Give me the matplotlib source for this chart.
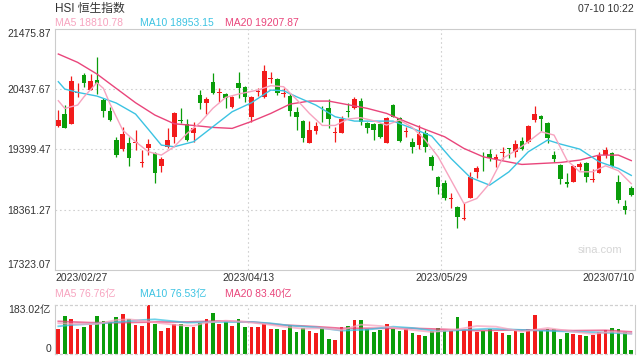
import matplotlib
matplotlib.use('Agg')
import matplotlib.pyplot as plt
import matplotlib.transforms as mtransforms

plt.rcParams['font.family'] = ['Liberation Sans', 'Noto Sans CJK SC', 'DejaVu Sans']

# daily OHLC, HSI 2023/02/27 - 2023/07/10
opens = [19803.0, 20009.9, 19843.2, 20377.9, 20688.3, 20423.8, 20596.3, 20251.4, 20067.4, 19561.5,
         19400.5, 19504.0, 19504.0, 19170.6, 19417.8, 19331.5, 19113.1, 19435.0, 19619.0, 19906.4,
         19831.7, 19688.0, 20337.6, 20205.4, 20556.1, 20377.9, 20349.1, 20136.4, 20550.3, 20481.3,
         19963.9, 20383.6, 20297.4, 20619.3, 20613.6, 20360.6, 20320.4, 20050.2, 19889.2, 19515.5,
         19716.7, 19912.2, 20107.7, 19688.0, 19688.0, 20055.9, 20119.2, 20234.1, 19860.5, 19831.7,
         19837.5, 19515.5, 20165.1, 19935.2, 19699.5, 19532.8, 19475.3, 19688.0, 19274.0, 18929.1,
         18825.6, 18543.9, 18411.7, 18199.0, 18566.9, 19015.3, 19118.8, 19314.3, 19228.1, 19337.3,
         19423.5, 19360.3, 19544.2, 19532.8, 19906.4, 19975.4, 19848.9, 19302.8, 19130.3, 18831.4,
         18842.9, 19101.6, 19159.1, 18877.4, 18998.1, 19302.8, 19331.5, 18831.4, 18423.2, 18727.9]
closes = [19906.4, 19774.2, 20579.1, 20389.4, 20550.3, 20573.3, 20533.1, 20055.9, 19906.4, 19302.8,
          19665.0, 19245.3, 19521.3, 19182.1, 19486.8, 18998.1, 19233.8, 19561.5, 20032.9, 19894.9,
          19561.5, 19774.2, 20193.9, 20268.6, 20377.9, 20389.4, 20280.1, 20308.9, 20464.1, 20308.9,
          20308.9, 20406.6, 20751.5, 20630.8, 20366.4, 20372.1, 20067.4, 19963.9, 19601.7, 19734.0,
          19803.0, 19900.6, 19923.7, 19699.5, 19917.9, 20044.4, 20262.9, 19866.2, 19762.7, 19734.0,
          19619.0, 19946.7, 19963.9, 19550.0, 19711.0, 19446.5, 19659.2, 19435.0, 19113.1, 18756.6,
          18555.4, 18561.2, 18239.2, 18210.5, 18929.1, 19084.3, 19107.3, 19245.3, 19274.0, 19348.8,
          19412.0, 19492.5, 19406.3, 19803.0, 20004.2, 19917.9, 19601.7, 19228.1, 18888.9, 18796.9,
          19113.1, 19147.6, 18929.1, 18888.9, 19291.3, 19389.0, 19113.1, 18526.7, 18354.2, 18613.0]
highs = [20078.9, 20165.1, 20665.3, 20538.8, 20722.8, 20694.1, 20987.3, 20280.1, 20136.4, 19619.0,
         19780.0, 19619.0, 19734.0, 19389.0, 19578.7, 19360.3, 19274.0, 19762.7, 20050.2, 20107.7,
         19923.7, 19877.7, 20423.8, 20308.9, 20711.3, 20452.6, 20366.4, 20320.4, 20734.3, 20492.8,
         20320.4, 20464.1, 20855.0, 20728.5, 20625.1, 20452.6, 20366.4, 20136.4, 19906.4, 19889.2,
         19877.7, 20153.6, 20262.9, 19780.0, 19975.4, 20193.9, 20308.9, 20280.1, 19877.7, 19848.9,
         19848.9, 19963.9, 20176.6, 19952.4, 19780.0, 19601.7, 19820.2, 19734.0, 19302.8, 18940.6,
         18871.6, 18653.2, 18423.2, 18469.2, 19015.3, 19113.1, 19360.3, 19400.5, 19320.0, 19446.5,
         19429.3, 19561.5, 19619.0, 19820.2, 20147.9, 19992.7, 19877.7, 19371.8, 19141.8, 18998.1,
         19130.3, 19187.8, 19176.4, 19061.3, 19360.3, 19435.0, 19360.3, 18957.9, 18526.7, 18768.1]
lows = [19791.5, 19765.0, 19835.0, 20308.9, 20481.3, 20418.0, 20349.1, 19963.9, 19889.2, 19274.0,
        19377.5, 19113.1, 19389.0, 19101.6, 19302.8, 18825.6, 19015.3, 19417.8, 19515.5, 19848.9,
        19544.2, 19532.8, 20096.2, 20009.9, 20349.1, 20222.6, 20107.7, 20107.7, 20280.1, 20222.6,
        19877.7, 20320.4, 20280.1, 20538.8, 20337.6, 20297.4, 19975.4, 19734.0, 19521.3, 19510.0,
        19659.2, 19877.7, 19762.7, 19532.8, 19682.0, 19963.9, 20096.2, 19820.2, 19688.0, 19561.5,
        19590.2, 19504.0, 19952.4, 19532.8, 19619.0, 19343.0, 19400.5, 19360.3, 19044.1, 18624.4,
        18526.7, 18383.0, 18055.3, 18193.2, 18555.4, 18900.4, 19026.8, 19205.1, 19090.1, 19228.1,
        19245.3, 19274.0, 19389.0, 19504.0, 19877.7, 19716.7, 19504.0, 19187.8, 18796.9, 18756.6,
        18837.0, 19044.1, 18831.4, 18831.4, 18992.0, 19245.3, 19090.1, 18469.2, 18279.5, 18595.7]

# turnover, 亿
volumes = [94.0, 142.2, 131.1, 94.0, 101.4, 108.8, 142.2, 123.7, 120.0, 138.5,
           149.6, 131.1, 108.8, 105.1, 183.0, 112.5, 86.6, 97.7, 112.5, 112.5,
           101.4, 101.4, 116.2, 131.1, 153.3, 112.5, 120.0, 105.1, 131.1, 101.4,
           101.4, 101.4, 112.5, 94.0, 94.0, 90.3, 108.8, 82.9, 97.7, 86.6,
           79.1, 97.7, 56.9, 53.2, 101.4, 105.1, 127.4, 127.4, 94.0, 82.9,
           90.3, 112.5, 94.0, 86.6, 94.0, 79.1, 71.7, 68.0, 86.6, 97.7,
           90.3, 86.6, 138.5, 90.3, 123.7, 82.9, 86.6, 94.0, 82.9, 79.1,
           71.7, 86.6, 79.1, 94.0, 145.9, 86.6, 94.0, 94.0, 56.9, 79.1,
           75.4, 71.7, 68.0, 71.7, 82.9, 90.3, 97.7, 94.0, 82.9, 16.1]

# moving averages (candle index, value)
ma5_idx = [0, 1, 3, 4, 6, 7, 8, 10, 12, 14, 16, 18, 20, 22, 24, 26, 28, 31, 33, 35, 37, 39, 41, 43,
           45, 47, 49, 51, 53, 55, 57, 59, 61, 63, 65, 67, 69, 71, 73, 75, 77, 79, 81, 83, 85, 87, 89]
ma5_val = [20239.9, 20107.7, 20165, 20309, 20550, 20453, 20194, 19734, 19533, 19360, 19303, 19447,
           19676, 19860, 20108, 20297, 20355, 20424, 20499, 20481, 20263, 20021, 19814, 19814,
           19924, 19947, 19895, 19820, 19907, 19780, 19561, 19274, 18872, 18469, 18555, 18814,
           19245, 19378, 19533, 19705, 19648, 19217, 19015, 19015, 19119, 19033, 18810.78]
ma10_idx = [0, 1, 3, 6, 9, 12, 14, 16, 18, 21, 24, 27, 30, 33, 35, 37, 40, 43, 46, 49, 52, 55, 58,
            61, 64, 67, 70, 73, 76, 78, 81, 84, 87, 89]
ma10_val = [20567.6, 20441, 20384, 20320, 20200, 20010, 19745, 19475, 19447, 19533, 19791, 20050,
            20205, 20424, 20412, 20309, 20165, 19964, 19889, 19889, 19889, 19763, 19631, 19245,
            18918, 18785, 19015, 19360, 19562, 19493, 19406, 19188, 19073, 18953.15]
ma20_idx = [0, 3, 6, 9, 12, 15, 18, 21, 24, 27, 30, 33, 36, 39, 42, 45, 48, 51, 54, 57, 60, 63, 66,
            69, 72, 75, 78, 81, 84, 87, 89]
ma20_val = [21044.7, 20901, 20700, 20452, 20205, 19993, 19843, 19814, 19780, 19763, 19883, 20021,
            20182, 20234, 20234, 20171, 20108, 20021, 19878, 19745, 19619, 19418, 19274, 19205,
            19142, 19159, 19176, 19217, 19303, 19303, 19207.87]

vma5_idx = [0, 3, 6, 9, 11, 13, 16, 19, 21, 23, 26, 29, 32, 35, 38, 41, 44, 47, 50, 54, 58, 62, 65,
            68, 72, 76, 80, 83, 86, 89]
vma5_val = [115.0, 112.5, 112.5, 127.4, 129.8, 124.9, 115.0, 107.6, 106.3, 117.5, 124.9, 120.0,
            112.5, 102.6, 95.2, 96.5, 90.3, 110.1, 105.1, 92.7, 82.9, 92.7, 105.1, 102.6, 84.1,
            97.7, 84.1, 75.4, 84.1, 76.76]
vma10_idx = [0, 2, 5, 10, 13, 15, 17, 20, 25, 30, 33, 36, 40, 44, 48, 52, 55, 59, 63, 67, 71, 75,
             80, 85, 89]
vma10_val = [103.9, 108.8, 112.5, 121.2, 127.4, 129.8, 124.9, 117.5, 120.0, 120.0, 115.0, 106.3,
             100.2, 87.8, 91.5, 102.6, 97.7, 85.3, 90.3, 95.2, 91.5, 87.8, 84.1, 80.4, 76.53]
vma20_idx = [0, 5, 10, 15, 20, 25, 30, 35, 40, 44, 50, 55, 60, 65, 70, 75, 80, 85, 89]
vma20_val = [122.4, 117.5, 117.5, 120.0, 120.0, 123.7, 120.0, 108.8, 102.6, 96.5, 96.5, 96.5, 92.7,
             87.8, 90.3, 90.3, 87.8, 89.0, 83.40]

price_ticks = [17323.07, 18361.27, 19399.47, 20437.67, 21475.87]
date_labels = ['2023/02/27', '2023/04/13', '2023/05/29', '2023/07/10']

RED = '#f21b1b'
GREEN = '#0a9d0a'
C_MA5 = '#f7a3bf'
C_MA10 = '#3cc3e2'
C_MA20 = '#e9457b'
TXT = '#333333'
FRAME = '#cccccc'

W, H = 640, 360
fig = plt.figure(figsize=(6.4, 3.6), dpi=100)
fig.patch.set_facecolor('white')

L, R = 55.1, 634.5
ax = fig.add_axes([L / W, 1 - 270 / H, (R - L) / W, 241 / H])
axv = fig.add_axes([L / W, 1 - 354.3 / H, (R - L) / W, 49.3 / H])

n = len(opens)
xs = list(range(n))
cols = [RED if c >= o else GREEN for o, c in zip(opens, closes)]

# candles
ax.vlines(xs, lows, highs, colors=cols, linewidth=0.9, zorder=2)
bottoms = [min(o, c) for o, c in zip(opens, closes)]
heights = [max(abs(c - o), 12) for o, c in zip(opens, closes)]
ax.bar(xs, heights, bottom=bottoms, width=0.72, color=cols, linewidth=0, zorder=3)

ax.plot(ma20_idx, ma20_val, color=C_MA20, lw=1.0, zorder=4)
ax.plot(ma10_idx, ma10_val, color=C_MA10, lw=1.0, zorder=4)
ax.plot(ma5_idx, ma5_val, color=C_MA5, lw=1.0, zorder=4)

ax.set_xlim(-0.5, n - 0.5)
ax.set_ylim(price_ticks[0], price_ticks[-1])
ax.set_yticks(price_ticks)
ax.set_yticklabels(['%.2f' % v for v in price_ticks])
tl = ax.get_yticklabels()
tl[0].set_va('bottom')
tl[-1].set_va('top')
ax.tick_params(axis='y', length=0, pad=3, labelsize=7.5, labelcolor=TXT)
ax.set_xticks([])
for v in price_ticks[1:-1]:
    ax.axhline(v, color='#d0d0d0', lw=0.8, ls=(0, (1.5, 2.5)), zorder=1)
for xv in (29.5, 59.5):
    ax.axvline(xv, color='#d0d0d0', lw=0.8, ls=(0, (1.5, 2.5)), zorder=1)
for s in ax.spines.values():
    s.set_color(FRAME)
    s.set_linewidth(0.8)

# date labels
trans = mtransforms.blended_transform_factory(ax.transData, ax.transAxes)
date_pos = [-0.5, 29.5, 59.5, n - 0.5]
aligns = ['left', 'center', 'center', 'right']
for d, xp, ha in zip(date_labels, date_pos, aligns):
    ax.text(xp, -0.034, d, transform=trans, ha=ha, va='center', fontsize=7.5, color=TXT)

ax.text(0.94, 0.085, 'sina.com', transform=ax.transAxes, ha='center', va='center',
        fontsize=8, color='#d5d5d5')

# header
fig.text(L / W, 1 - 9 / H, 'HSI 恒生指数', ha='left', va='center', fontsize=8.5, color=TXT)
fig.text(634 / W, 1 - 9 / H, '07-10 10:22', ha='right', va='center', fontsize=7.5, color=TXT)
fig.text(L / W, 1 - 23.5 / H, 'MA5 %.2f' % ma5_val[-1], ha='left', va='center', fontsize=7.5, color=C_MA5)
fig.text(140.5 / W, 1 - 23.5 / H, 'MA10 %.2f' % ma10_val[-1], ha='left', va='center', fontsize=7.5, color=C_MA10)
fig.text(225.3 / W, 1 - 23.5 / H, 'MA20 %.2f' % ma20_val[-1], ha='left', va='center', fontsize=7.5, color=C_MA20)

# volume panel
axv.bar(xs, volumes, width=0.58, color=cols, linewidth=0, zorder=2)
axv.plot(vma20_idx, vma20_val, color=C_MA20, lw=1.3, alpha=0.75, zorder=3)
axv.plot(vma10_idx, vma10_val, color=C_MA10, lw=1.3, alpha=0.75, zorder=3)
axv.plot(vma5_idx, vma5_val, color=C_MA5, lw=1.3, alpha=0.75, zorder=3)
vmax = 183.02
axv.set_xlim(-0.5, n - 0.5)
axv.set_ylim(0, vmax)
axv.set_yticks([0, vmax])
axv.set_yticklabels(['0', '%.2f亿' % vmax])
vl = axv.get_yticklabels()
vl[0].set_va('bottom')
vl[1].set_va('top')
axv.tick_params(axis='y', length=0, pad=3, labelsize=7.5, labelcolor=TXT)
axv.set_xticks([])
for xv in (29.5, 59.5):
    axv.axvline(xv, color='#d0d0d0', lw=0.8, ls=(0, (1.5, 2.5)), zorder=1)
for k in ('top', 'bottom'):
    axv.spines[k].set_color('#d0d0d0')
    axv.spines[k].set_linestyle((0, (1.5, 2.5)))
    axv.spines[k].set_linewidth(0.9)
for k in ('left', 'right'):
    axv.spines[k].set_color(FRAME)
    axv.spines[k].set_linewidth(0.8)

fig.text(L / W, 1 - 294.5 / H, 'MA5 %.2f亿' % vma5_val[-1], ha='left', va='center', fontsize=7.5, color=C_MA5)
fig.text(140.5 / W, 1 - 294.5 / H, 'MA10 %.2f亿' % vma10_val[-1], ha='left', va='center', fontsize=7.5, color=C_MA10)
fig.text(225.3 / W, 1 - 294.5 / H, 'MA20 %.2f亿' % vma20_val[-1], ha='left', va='center', fontsize=7.5, color=C_MA20)

fig.savefig('out.png', dpi=100)
